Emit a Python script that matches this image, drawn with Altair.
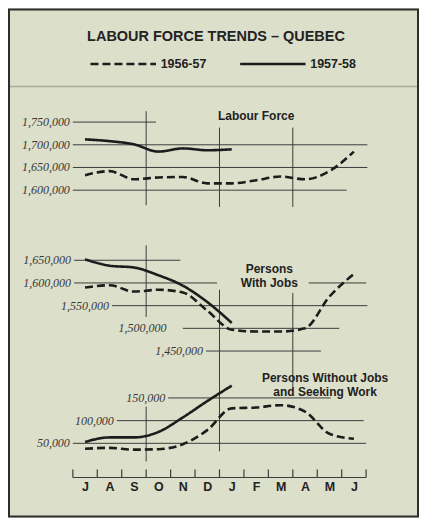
import altair as alt
import pandas as pd

# ---------------- data (values in thousands) ----------------
months = ["J", "A", "S", "O", "N", "D", "J", "F", "M", "A", "M", "J"]
series = ["1956-57", "1957-58"]

labour_1956 = [1633, 1642, 1624, 1628, 1629, 1615, 1615, 1622, 1630, 1624, 1642, 1685]
labour_1957 = [1712, 1708, 1701, 1685, 1692, 1688, 1690]
jobs_1956 = [1590, 1595, 1581, 1585, 1579, 1539, 1497, 1493, 1493, 1500, 1570, 1620]
jobs_1957 = [1652, 1638, 1634, 1617, 1594, 1558, 1512]
seeking_1956 = [38, 40, 36, 37, 48, 79, 127, 129, 134, 120, 71, 60]
seeking_1957 = [53, 63, 63, 75, 107, 143, 177]

panel_keys = ["labour", "jobs", "seeking"]
panel_titles = ["Labour Force", "Persons\nWith Jobs", "Persons Without Jobs\nand Seeking Work"]
panel_title_month = [7.5, 8.04, 10.32]
panel_title_value = [1763, 1630, 193]

# horizontal reference lines (value in thousands, extent in month units)
grid_panel = ["labour"] * 4 + ["jobs"] * 6 + ["seeking"] * 3
grid_value = [1750, 1700, 1650, 1600, 1650, 1600, 1600, 1550, 1500, 1450, 150, 100, 50]
grid_from = [0, 0, 0, 0, 0.05, 0.05, 9.65, 1.6, 4.5, 5.45, 3.9, 1.8, 0]
grid_to = [3.4, 12.05, 12.05, 11.2, 4.4, 5.9, 12.0, 12.05, 10.9, 10.15, 10.55, 11.9, 12.0]
grid_label_at = [0, 0, 0, 0, 0.05, 0.05, None, 1.6, 3.95, 5.45, 3.9, 1.8, 0]

# vertical reference lines at quarter boundaries
vert_month = [3, 3, 3, 6, 6, 9, 9]
vert_panel = ["labour", "jobs", "seeking", "labour", "jobs", "labour", "jobs"]
vert_from = [1774, 1683, 131, 1738, 1585, 1738, 1578]
vert_to = [1567, 1525, 10, 1563, 1229, 1563, 1371]

# ---------------- layout of the stacked panels ----------------
PX_PER_MONTH = 24.5
PX_PER_K = 0.455
W, H = 410, 508
X_MIN = -64 / PX_PER_MONTH
X_MAX = X_MIN + W / PX_PER_MONTH
Y_TOP = 1997.8
Y_BOTTOM = Y_TOP - H / PX_PER_K
panel_shift = {"labour": 0.0, "jobs": -204.4, "seeking": 992.3}

# ---------------- tables ----------------
line_rows = []
for key, s56, s57 in [("labour", labour_1956, labour_1957),
                      ("jobs", jobs_1956, jobs_1957),
                      ("seeking", seeking_1956, seeking_1957)]:
    for name, vals in [(series[0], s56), (series[1], s57)]:
        for i, v in enumerate(vals):
            line_rows.append({"m": i + 0.5, "u": v + panel_shift[key],
                              "series": name, "key": key + name})
lines_df = pd.DataFrame(line_rows)

grid_df = pd.DataFrame({
    "m0": grid_from, "m1": grid_to,
    "u": [v + panel_shift[p] for v, p in zip(grid_value, grid_panel)],
})
label_df = pd.DataFrame([
    {"m": at, "u": v + panel_shift[p], "label": f"{v * 1000:,}"}
    for p, v, at in zip(grid_panel, grid_value, grid_label_at) if at is not None
])
vert_df = pd.DataFrame({
    "m": vert_month,
    "u0": [a + panel_shift[p] for a, p in zip(vert_from, vert_panel)],
    "u1": [b + panel_shift[p] for b, p in zip(vert_to, vert_panel)],
})
title_df = pd.DataFrame({
    "m": panel_title_month,
    "u": [v + panel_shift[k] for v, k in zip(panel_title_value, panel_keys)],
    "t": panel_titles,
})
tick_df = pd.DataFrame({"m": list(range(len(months) + 1))})
axis_df = pd.DataFrame({"m0": [0], "m1": [len(months)]})

# ---------------- scales / axis ----------------
xs = alt.Scale(domain=[X_MIN, X_MAX], nice=False, zero=False)
ys = alt.Scale(domain=[Y_BOTTOM, Y_TOP], nice=False, zero=False)
label_expr = "[" + ",".join(f"'{m}'" for m in months) + "][floor(datum.value)]"
xaxis = alt.Axis(values=[i + 0.5 for i in range(len(months))], labelExpr=label_expr,
                 ticks=False, tickSize=0, domain=False, grid=False, title=None,
                 offset=-39, labelPadding=3, labelFont="Liberation Sans",
                 labelFontSize=12.5, labelFontWeight="bold", labelColor="#222222",
                 labelOverlap=False, labelFlush=False)

INK = "#1c1c1c"
GRID = "#3d3d3d"

grid = alt.Chart(grid_df).mark_rule(color=GRID, strokeWidth=1).encode(
    x=alt.X("m0:Q", scale=xs, axis=xaxis), x2="m1:Q",
    y=alt.Y("u:Q", scale=ys, axis=None))

verts = alt.Chart(vert_df).mark_rule(color=GRID, strokeWidth=1).encode(
    x=alt.X("m:Q", scale=xs, axis=xaxis),
    y=alt.Y("u0:Q", scale=ys, axis=None), y2="u1:Q")

labels = alt.Chart(label_df).mark_text(
    align="right", baseline="middle", dx=-3, font="Liberation Serif",
    fontStyle="italic", fontSize=12, color="#383838").encode(
    x=alt.X("m:Q", scale=xs, axis=xaxis),
    y=alt.Y("u:Q", scale=ys, axis=None), text="label:N")

lines = alt.Chart(lines_df).mark_line(interpolate="monotone", strokeWidth=2.6, color=INK).encode(
    x=alt.X("m:Q", scale=xs, axis=xaxis),
    y=alt.Y("u:Q", scale=ys, axis=None),
    detail="key:N",
    strokeDash=alt.StrokeDash(
        "series:N",
        scale=alt.Scale(domain=series, range=[[8, 4], [1, 0]]),
        legend=alt.Legend(orient="none", legendX=80, legendY=20, direction="horizontal",
                          title=None, symbolType="stroke", symbolSize=4300,
                          symbolStrokeWidth=2.6, symbolStrokeColor=INK,
                          labelFont="Liberation Sans", labelFontSize=12.5,
                          labelFontWeight="bold", labelColor="#222222",
                          labelOffset=3, columnPadding=28)))

titles = alt.Chart(title_df).mark_text(
    font="Liberation Sans", fontWeight="bold", fontSize=12, color="#222222",
    lineBreak="\n", lineHeight=14, baseline="middle", align="center").encode(
    x=alt.X("m:Q", scale=xs, axis=xaxis),
    y=alt.Y("u:Q", scale=ys, axis=None), text="t:N")

axis_line = alt.Chart(axis_df).mark_rule(color=GRID, strokeWidth=1.2).encode(
    x=alt.X("m0:Q", scale=xs, axis=xaxis), x2="m1:Q", y=alt.value(469))

ticks = alt.Chart(tick_df).mark_rule(color=GRID, strokeWidth=1.2).encode(
    x=alt.X("m:Q", scale=xs, axis=xaxis), y=alt.value(461), y2=alt.value(469))

divider = alt.Chart(axis_df).mark_rule(color="#a7ab9a", strokeWidth=1.5).encode(
    x=alt.value(1), x2=alt.value(409), y=alt.value(77))

chart = alt.layer(divider, grid, verts, labels, axis_line, ticks, titles, lines).properties(
    width=W, height=H, autosize="none",
    padding={"left": 1, "right": 1, "top": 1, "bottom": 1},
    background="#dcdfca",
    title=alt.TitleParams("LABOUR FORCE TRENDS – QUEBEC", font="Liberation Sans",
                          fontSize=14.5, fontWeight="bold", color="#232323",
                          anchor="middle", frame="group", baseline="alphabetic",
                          offset=-46, dx=2.5),
).configure_view(stroke="#2e2e2e", strokeWidth=2, fill="#dcdfca")

chart.save("out.html", embed_options={"renderer": "svg", "actions": False})
